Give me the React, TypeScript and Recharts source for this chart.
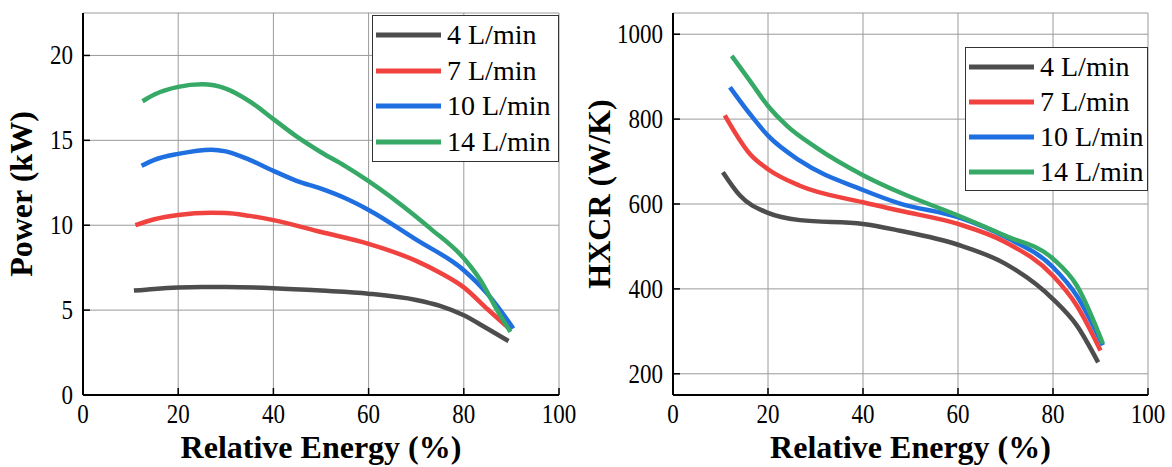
import React from 'react';
import { LineChart, Line, XAxis, YAxis, CartesianGrid, Legend, Label } from 'recharts';

const FONT = "'Liberation Serif', 'Times New Roman', serif";

const seriesNames = ['4 L/min', '7 L/min', '10 L/min', '14 L/min'];
const seriesColors = ['#4d4d4d', '#f0433f', '#1f6fe0', '#37a967'];

const energyTicks = [0, 20, 40, 60, 80, 100];
const energyMinorTicks = [10, 30, 50, 70, 90];
const powerTicks = [0, 5, 10, 15, 20];
const powerMinorTicks = [2.5, 7.5, 12.5, 17.5];
const hxcrTicks = [200, 400, 600, 800, 1000];
const hxcrMinorTicks = [300, 500, 700, 900];

// Power (kW) vs relative energy (%)
const powerX4 = [10.7, 15, 20, 25, 30, 40, 50, 60, 70, 75, 80, 85, 89.4];
const powerY4 = [6.15, 6.25, 6.33, 6.36, 6.36, 6.29, 6.15, 5.97, 5.6, 5.25, 4.7, 3.9, 3.18];
const powerX7 = [11, 15, 20, 27, 30, 35, 40, 50, 60, 70, 75, 80, 85, 89.8];
const powerY7 = [10.0, 10.35, 10.6, 10.73, 10.72, 10.55, 10.3, 9.6, 8.9, 7.9, 7.2, 6.34, 5.05, 3.85];
const powerX10 = [12.3, 15, 20, 27, 30, 35, 40, 45, 50, 55, 60, 70, 80, 85, 90.4];
const powerY10 = [13.5, 13.85, 14.2, 14.45, 14.35, 13.85, 13.2, 12.6, 12.15, 11.6, 10.9, 9.15, 7.35, 5.95, 3.92];
const powerX14 = [12.5, 15, 20, 25, 30, 35, 40, 45, 50, 55, 60, 70, 73, 80, 83.4, 87, 89.8];
const powerY14 = [17.3, 17.7, 18.15, 18.3, 18.05, 17.3, 16.25, 15.2, 14.3, 13.5, 12.6, 10.5, 9.8, 8.05, 6.8, 5.0, 3.72];

// HXCR (W/K) vs relative energy (%)
const hxcrX4 = [10.5, 14.1, 20, 26.7, 40, 47.8, 60, 70, 80, 85, 89.5];
const hxcrY4 = [675, 620, 579, 562, 553, 537, 504, 459, 376, 314, 227];
const hxcrX7 = [10.9, 16.2, 20, 26.7, 40, 47.8, 60, 70, 80, 85, 90];
const hxcrY7 = [809, 718, 682, 643, 604, 584, 553, 510, 431, 361, 255];
const hxcrX10 = [12, 16.2, 20, 26.7, 40, 47.8, 60, 70, 80, 85, 90.5];
const hxcrY10 = [875, 812, 761, 702, 633, 601, 569, 522, 451, 384, 267];
const hxcrX14 = [12.35, 16.2, 20, 24, 30, 40, 47.8, 60, 70, 80, 85, 90.5];
const hxcrY14 = [949, 890, 831, 784, 734, 668, 627, 573, 525, 471, 408, 271];

const zip = (xs: number[], ys: number[]) => xs.map((x, i) => ({ x, y: ys[i] }));

const powerSeries = [zip(powerX4, powerY4), zip(powerX7, powerY7), zip(powerX10, powerY10), zip(powerX14, powerY14)];
const hxcrSeries = [zip(hxcrX4, hxcrY4), zip(hxcrX7, hxcrY7), zip(hxcrX10, hxcrY10), zip(hxcrX14, hxcrY14)];

const MAJOR = 7;
const MINOR = 4;
const TICK_FS = 23;
const TICK_STRETCH = 1.15;

const LegendBox = ({ width, height }: { width: number; height: number }) => {
  const rowH = (height - 4) / seriesNames.length;
  return (
    <div
      style={{
        width,
        height,
        boxSizing: 'border-box',
        border: '1.3px solid #333',
        background: '#fff',
        paddingTop: 1,
        fontFamily: FONT,
      }}
    >
      {seriesNames.map((n, i) => (
        <div key={n} style={{ height: rowH, display: 'flex', alignItems: 'center' }}>
          <svg width={74} height={10} style={{ display: 'block' }}>
            <line x1={3} x2={68} y1={5} y2={5} stroke={seriesColors[i]} strokeWidth={5} />
          </svg>
          <span style={{ fontSize: 28, lineHeight: 1, color: '#000', whiteSpace: 'nowrap' }}>{n}</span>
        </div>
      ))}
    </div>
  );
};

type PanelProps = {
  width: number;
  yAxisWidth: number;
  marginRight: number;
  yDomain: [number, number];
  yTicks: number[];
  yMinorTicks: number[];
  yTitle: string;
  yTitleX: number;
  series: { x: number; y: number }[][];
  legendLeft: number;
  legendTop: number;
  legendW: number;
  legendH: number;
};

const Panel = (p: PanelProps) => {
  const allX = [...energyTicks, ...energyMinorTicks].sort((a, b) => a - b);
  const allY = [...p.yTicks, ...p.yMinorTicks].sort((a, b) => a - b);
  const isMajorX = (v: number) => energyTicks.includes(v);
  const isMajorY = (v: number) => p.yTicks.includes(v);
  return (
    <LineChart width={p.width} height={467} margin={{ top: 13, right: p.marginRight, bottom: 0, left: 0 }}>
      <CartesianGrid xAxisId="x" yAxisId="y" stroke="#9a9a9a" strokeWidth={1} />
      <XAxis
        xAxisId="x"
        type="number"
        dataKey="x"
        domain={[0, 100]}
        ticks={energyTicks}
        interval={0}
        allowDataOverflow
        height={72}
        tickSize={0}
        tickMargin={0}
        tickLine={false}
        axisLine={{ stroke: '#000', strokeWidth: 2 }}
        tick={(t: any) => (
          <g>
            <line x1={t.x} x2={t.x} y1={t.y} y2={t.y - MAJOR} stroke="#000" strokeWidth={1.5} />
            <text
              transform={`translate(${t.x} ${t.y + 28}) scale(1 ${TICK_STRETCH})`}
              x={0}
              y={0}
              textAnchor="middle"
              fontSize={TICK_FS}
              fontFamily={FONT}
              fill="#000"
            >
              {t.payload.value}
            </text>
          </g>
        )}
      >
        <Label
          content={(l: any) => {
            const vb = l.viewBox;
            return (
              <text x={vb.x + vb.width / 2} y={vb.y + 63} textAnchor="middle" fontSize={32} fontWeight="bold" fontFamily={FONT} fill="#000">
                Relative Energy (%)
              </text>
            );
          }}
        />
      </XAxis>
      <XAxis
        xAxisId="bm"
        type="number"
        domain={[0, 100]}
        ticks={energyMinorTicks}
        interval={0}
        allowDataOverflow
        orientation="bottom"
        mirror
        height={0}
        tickSize={0}
        tickMargin={0}
        tickLine={false}
        axisLine={false}
        tick={(t: any) => <line x1={t.x} x2={t.x} y1={t.y} y2={t.y - MINOR} stroke="#000" strokeWidth={1.5} />}
      />
      <XAxis
        xAxisId="t"
        type="number"
        domain={[0, 100]}
        ticks={allX}
        interval={0}
        allowDataOverflow
        orientation="top"
        mirror
        height={0}
        tickSize={0}
        tickMargin={0}
        tickLine={false}
        axisLine={{ stroke: '#000', strokeWidth: 2 }}
        tick={(t: any) => (
          <line x1={t.x} x2={t.x} y1={t.y} y2={t.y + (isMajorX(t.payload.value) ? MAJOR : MINOR)} stroke="#000" strokeWidth={1.5} />
        )}
      />
      <YAxis
        yAxisId="y"
        type="number"
        domain={p.yDomain}
        ticks={p.yTicks}
        interval={0}
        allowDataOverflow
        width={p.yAxisWidth}
        tickSize={0}
        tickMargin={0}
        tickLine={false}
        axisLine={{ stroke: '#000', strokeWidth: 2 }}
        tick={(t: any) => (
          <g>
            <line x1={t.x} x2={t.x + MAJOR} y1={t.y} y2={t.y} stroke="#000" strokeWidth={1.5} />
            <text
              transform={`translate(${t.x - 10} ${t.y + 9}) scale(1 ${TICK_STRETCH})`}
              x={0}
              y={0}
              textAnchor="end"
              fontSize={TICK_FS}
              fontFamily={FONT}
              fill="#000"
            >
              {t.payload.value}
            </text>
          </g>
        )}
      >
        <Label
          content={(l: any) => {
            const vb = l.viewBox;
            const cx = vb.x + p.yTitleX;
            const cy = vb.y + vb.height / 2 - 10;
            return (
              <text
                x={cx}
                y={cy}
                transform={`rotate(-90 ${cx} ${cy})`}
                textAnchor="middle"
                fontSize={32}
                fontWeight="bold"
                fontFamily={FONT}
                fill="#000"
              >
                {p.yTitle}
              </text>
            );
          }}
        />
      </YAxis>
      <YAxis
        yAxisId="lm"
        type="number"
        domain={p.yDomain}
        ticks={p.yMinorTicks}
        interval={0}
        allowDataOverflow
        orientation="left"
        mirror
        width={0}
        tickSize={0}
        tickMargin={0}
        tickLine={false}
        axisLine={false}
        tick={(t: any) => <line x1={t.x} x2={t.x + MINOR} y1={t.y} y2={t.y} stroke="#000" strokeWidth={1.5} />}
      />
      <YAxis
        yAxisId="r"
        type="number"
        domain={p.yDomain}
        ticks={allY}
        interval={0}
        allowDataOverflow
        orientation="right"
        mirror
        width={0}
        tickSize={0}
        tickMargin={0}
        tickLine={false}
        axisLine={{ stroke: '#000', strokeWidth: 2 }}
        tick={(t: any) => (
          <line x1={t.x} x2={t.x - (isMajorY(t.payload.value) ? MAJOR : MINOR)} y1={t.y} y2={t.y} stroke="#000" strokeWidth={1.5} />
        )}
      />
      {p.series.map((d, i) => (
        <Line
          key={seriesNames[i]}
          xAxisId="x"
          yAxisId="y"
          data={d}
          dataKey="y"
          name={seriesNames[i]}
          type="monotone"
          stroke={seriesColors[i]}
          strokeWidth={4.5}
          dot={false}
          activeDot={false}
          isAnimationActive={false}
        />
      ))}
      <Legend
        layout="vertical"
        align="center"
        verticalAlign="middle"
        wrapperStyle={{ left: p.legendLeft, top: p.legendTop, width: p.legendW, height: p.legendH, margin: 0 }}
        content={() => <LegendBox width={p.legendW} height={p.legendH} />}
      />
    </LineChart>
  );
};

export default function App() {
  return (
    <div style={{ position: 'absolute', left: 0, top: 0, width: 1172, height: 467, background: '#fff' }}>
      <div style={{ position: 'absolute', left: 0, top: 0 }}>
        <Panel
          width={590}
          yAxisWidth={83}
          marginRight={31}
          yDomain={[0, 22.5]}
          yTicks={powerTicks}
          yMinorTicks={powerMinorTicks}
          yTitle="Power (kW)"
          yTitleX={32}
          series={powerSeries}
          legendLeft={372}
          legendTop={15}
          legendW={187}
          legendH={147}
        />
      </div>
      <div style={{ position: 'absolute', left: 575, top: 0 }}>
        <Panel
          width={597}
          yAxisWidth={98}
          marginRight={24}
          yDomain={[150, 1050]}
          yTicks={hxcrTicks}
          yMinorTicks={hxcrMinorTicks}
          yTitle="HXCR (W/K)"
          yTitleX={35}
          series={hxcrSeries}
          legendLeft={390}
          legendTop={47}
          legendW={183}
          legendH={144}
        />
      </div>
    </div>
  );
}
